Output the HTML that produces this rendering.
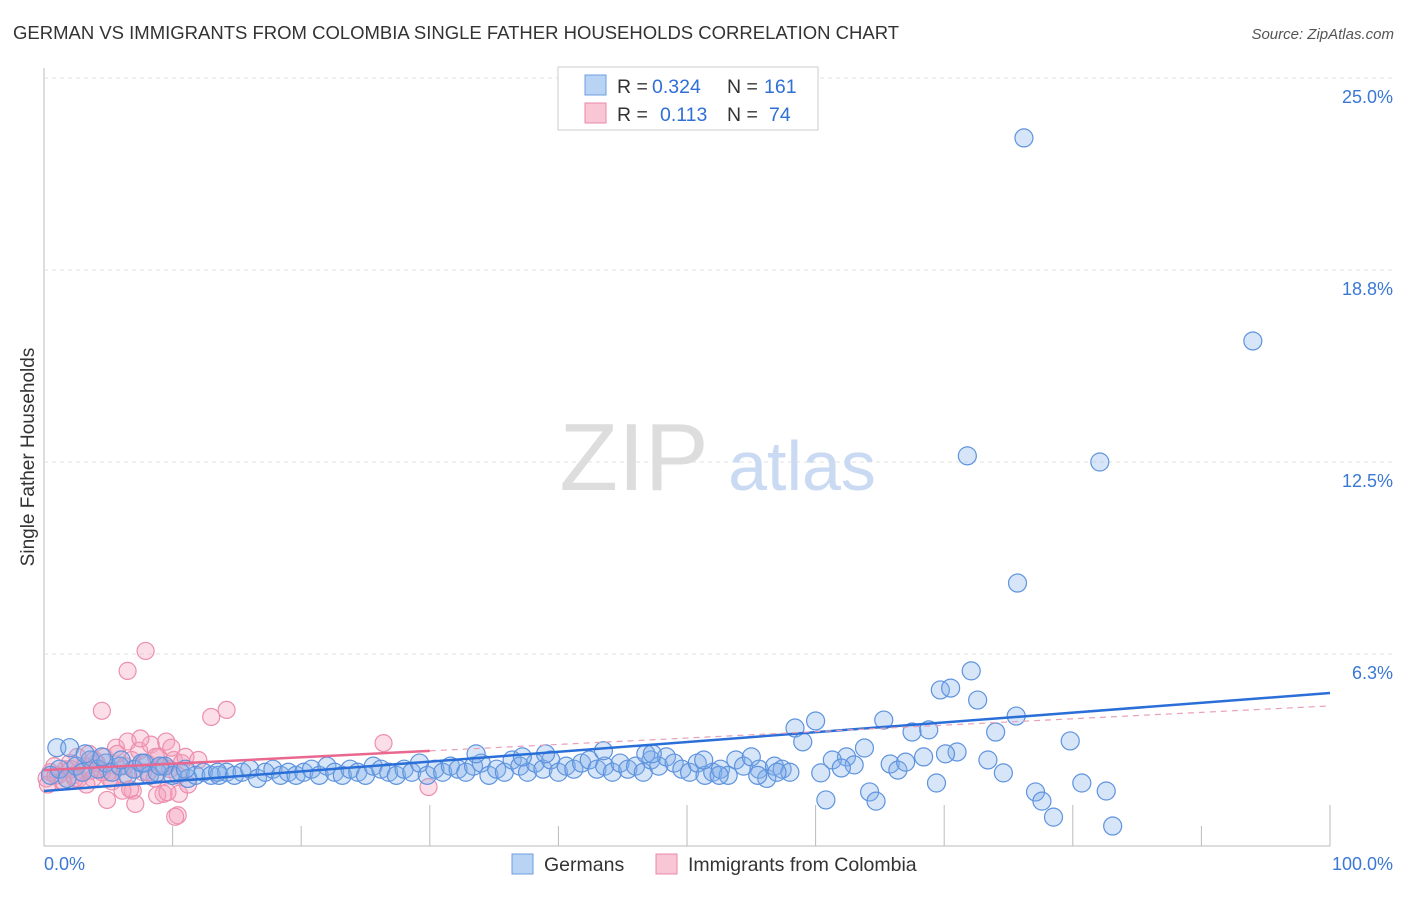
<!DOCTYPE html>
<html><head><meta charset="utf-8"><style>
body{margin:0;background:#fff;font-family:"Liberation Sans",sans-serif;}
svg text{font-family:"Liberation Sans",sans-serif;}
</style></head><body>
<svg id="chart" width="1406" height="892" viewBox="0 0 1406 892" xmlns="http://www.w3.org/2000/svg">
<text x="13" y="39" font-size="18.5" fill="#333">GERMAN VS IMMIGRANTS FROM COLOMBIA SINGLE FATHER HOUSEHOLDS CORRELATION CHART</text>
<text x="1394" y="39" font-size="15" fill="#555" text-anchor="end" font-style="italic">Source: ZipAtlas.com</text>
<text transform="translate(34,457) rotate(-90)" font-size="19" fill="#333" text-anchor="middle">Single Father Households</text>
<g id="grid"></g>
<g>
<text x="634" y="490" font-size="96" fill="#ddd" font-family="Liberation Serif,serif" text-anchor="middle">ZIP</text>
<text x="802" y="490" font-size="70" fill="#c9daf2" text-anchor="middle">atlas</text>
</g>
<g id="pts"></g>
<g id="lines"></g>
<g>
<rect x="558" y="67" width="260" height="63" fill="#fff" stroke="#ccc"/>
<rect x="585" y="75" width="21" height="20" fill="#b9d3f5" stroke="#6d9de0"/>
<rect x="585" y="103" width="21" height="20" fill="#f9c6d6" stroke="#e88aa8"/>
<text x="617" y="93" font-size="19.5" fill="#333">R =</text>
<text x="652" y="93" font-size="19.5" fill="#2f6fd6">0.324</text>
<text x="727" y="93" font-size="19.5" fill="#333">N =</text>
<text x="764" y="93" font-size="19.5" fill="#2f6fd6">161</text>
<text x="617" y="121" font-size="19.5" fill="#333">R =</text>
<text x="660" y="121" font-size="19.5" fill="#2f6fd6">0.113</text>
<text x="727" y="121" font-size="19.5" fill="#333">N =</text>
<text x="769" y="121" font-size="19.5" fill="#2f6fd6">74</text>
</g>
<g>
<rect x="512" y="854" width="21" height="20" fill="#b9d3f5" stroke="#6d9de0"/>
<text x="544" y="871" font-size="19.5" fill="#333">Germans</text>
<rect x="656" y="854" width="21" height="20" fill="#f9c6d6" stroke="#e88aa8"/>
<text x="688" y="871" font-size="19.5" fill="#333">Immigrants from Colombia</text>
</g>
</svg>
<script>
const yTicks=[6.25,12.5,18.75,25];
const yTickLabels=["6.3%","12.5%","18.8%","25.0%"];
const xTicks=[0,10,20,30,40,50,60,70,80,90,100];
const xEndLabels=["0.0%","100.0%"];
const germanX=[0.5,1.2,1.8,2.5,3,3.6,4.2,4.8,5.3,5.9,6.5,7,7.6,8.2,8.8,9.4,10,10.6,11.2,11.8,12.4,13,13.6,14.2,14.8,15.4,16,16.6,17.2,17.8,18.4,19,19.6,20.2,20.8,21.4,22,22.6,23.2,23.8,24.4,25,25.6,26.2,26.8,27.4,28,28.6,29.2,29.8,30.4,31,31.6,32.2,32.8,33.4,34,34.6,35.2,35.8,36.4,37,37.6,38.2,38.8,39.4,40,40.6,41.2,41.8,42.4,43,43.6,44.2,44.8,45.4,46,46.6,47.2,47.8,48.4,49,49.6,50.2,50.8,51.4,52,52.6,53.2,53.8,54.4,55,55.6,56.2,56.8,57.4,58,1,2,3.2,4.5,6,7.8,9,11,13.5,33.6,37.2,39,43.5,46.8,47.3,51.3,76.2,94,71.8,82.1,75.7,72.1,69.7,70.5,72.6,75.6,65.3,60,58.4,59,67.5,68.8,74,79.8,63.8,71,70.1,68.4,62.4,61.3,63,62,65.8,66.4,67,73.4,74.6,60.4,69.4,80.7,82.6,77.1,77.6,78.5,83.1,60.8,64.2,64.7,55.5,57,52.5];
const germanY=[2.3,2.5,2.2,2.6,2.4,2.8,2.5,2.7,2.4,2.6,2.3,2.5,2.7,2.3,2.4,2.6,2.3,2.4,2.2,2.3,2.4,2.3,2.3,2.4,2.3,2.4,2.5,2.2,2.4,2.5,2.3,2.4,2.3,2.4,2.5,2.3,2.6,2.4,2.3,2.5,2.4,2.3,2.6,2.5,2.4,2.3,2.5,2.4,2.7,2.3,2.5,2.4,2.6,2.5,2.4,2.6,2.7,2.3,2.5,2.4,2.8,2.6,2.4,2.7,2.5,2.8,2.4,2.6,2.5,2.7,2.8,2.5,2.6,2.4,2.7,2.5,2.6,2.4,2.8,2.6,2.9,2.7,2.5,2.4,2.7,2.3,2.4,2.5,2.3,2.8,2.6,2.9,2.5,2.2,2.6,2.5,2.4,3.2,3.2,3.0,2.9,2.8,2.7,2.6,2.5,2.4,3.0,2.9,3.0,3.1,3.0,3.0,2.8,23.05,16.44,12.7,12.5,8.56,5.7,5.08,5.14,4.75,4.23,4.1,4.07,3.84,3.39,3.71,3.78,3.71,3.42,3.19,3.06,3.0,2.9,2.9,2.8,2.64,2.54,2.67,2.47,2.73,2.8,2.38,2.38,2.05,2.05,1.79,1.76,1.46,0.94,0.65,1.5,1.76,1.46,2.3,2.4,2.3];
const colombiaX=[0.2,0.5,0.8,1.1,1.4,1.7,2,2.3,2.6,2.9,3.2,3.5,3.8,4.1,4.4,4.7,5,5.3,5.6,5.9,6.2,6.5,6.8,7.1,7.4,7.7,8,8.3,8.6,8.9,9.2,9.5,9.8,10.1,10.4,10.7,11,0.3,0.9,1.5,2.1,2.7,3.3,3.9,4.5,5.1,5.7,6.3,6.9,7.5,8.1,8.7,9.3,9.9,10.5,11.2,7.9,6.5,4.5,14.2,13,26.4,29.9,10.4,10.2,7.1,4.9,6.1,6.7,8.8,9.6,12,2.4,3.6];
const colombiaY=[2.2,2.4,2.6,2.3,2.1,2.5,2.7,2.3,2.9,2.4,2.6,3.0,2.2,2.7,2.5,2.9,2.4,2.1,3.2,2.6,2.3,3.4,2.8,2.5,3.1,2.4,2.7,3.3,2.2,2.9,2.6,3.4,2.5,2.8,2.3,2.7,2.9,2.0,2.3,2.1,2.5,2.2,2.0,2.8,2.4,2.2,3.0,2.6,1.8,3.5,2.4,2.9,1.7,3.2,1.7,2.0,6.35,5.7,4.4,4.43,4.2,3.35,1.92,1.0,0.95,1.37,1.5,1.8,1.85,1.65,1.75,2.8,2.2,2.45];
const trendBlue=[1.79,4.98];
const trendPink=[2.47,4.56];
const pinkSolidEnd=30;

const X0=44,X1=1330,Y0=846,YTOP=78;
const xs=v=>X0+(X1-X0)*v/100;
const ys=v=>Y0-(Y0-YTOP)*v/25;
const NS="http://www.w3.org/2000/svg";
function mk(tag,attrs,parent){const e=document.createElementNS(NS,tag);for(const k in attrs)e.setAttribute(k,attrs[k]);parent.appendChild(e);return e;}
const grid=document.getElementById('grid');
const ax=mk('line',{x1:X0,y1:68,x2:X0,y2:Y0,stroke:'#bbb'},grid);


const bx=mk('line',{x1:X0,y1:Y0,x2:X1,y2:Y0,stroke:'#bbb'},grid);


yTicks.forEach((t,i)=>{
 const g=mk('line',{x1:X0,y1:ys(t),x2:1394,y2:ys(t),stroke:'#e2e2e2','stroke-dasharray':'4,4'},grid);
 
 
 const l=mk('text',{x:1393,y:ys(t)+25,'font-size':18,fill:'#3a78d4','text-anchor':'end'},grid);
 l.textContent=yTickLabels[i];
 
 
});
xTicks.forEach((t,i)=>{
 if(i===0)return;
 const long=[3,5,6,7,8,10].includes(i);
 const tk=mk('line',{x1:xs(t),y1:long?805:826,x2:xs(t),y2:Y0,stroke:'#bbb'},grid);
 
 
});
const l0=mk('text',{x:44,y:870,'font-size':18,fill:'#3a78d4'},grid);
l0.textContent=xEndLabels[0];


const l1=mk('text',{x:1393,y:870,'font-size':18,fill:'#3a78d4','text-anchor':'end'},grid);
l1.textContent=xEndLabels[1];


const pts=document.getElementById('pts');
colombiaX.forEach((x,i)=>{
 const c=mk('circle',{cx:xs(x),cy:ys(colombiaY[i]),r:8.5,fill:'rgba(244,160,188,0.35)',stroke:'#ec8fae','stroke-width':1.2},pts);
 
 
});
germanX.forEach((x,i)=>{
 const c=mk('circle',{cx:xs(x),cy:ys(germanY[i]),r:9,fill:'rgba(130,175,235,0.33)',stroke:'#5e93de','stroke-width':1.2},pts);
 
 
});
const lines=document.getElementById('lines');
const tb=mk('line',{x1:xs(0),y1:ys(trendBlue[0]),x2:xs(100),y2:ys(trendBlue[1]),stroke:'#2a6fd8','stroke-width':2.5},lines);


const pv=x=>trendPink[0]+(trendPink[1]-trendPink[0])*x/100;
const tp=mk('line',{x1:xs(0),y1:ys(pv(0)),x2:xs(pinkSolidEnd),y2:ys(pv(pinkSolidEnd)),stroke:'#e8688f','stroke-width':2.5},lines);


const td=mk('line',{x1:xs(pinkSolidEnd),y1:ys(pv(pinkSolidEnd)),x2:xs(100),y2:ys(pv(100)),stroke:'#e8a0b8','stroke-width':1.2,'stroke-dasharray':'6,5'},lines);


</script>
</body></html>
